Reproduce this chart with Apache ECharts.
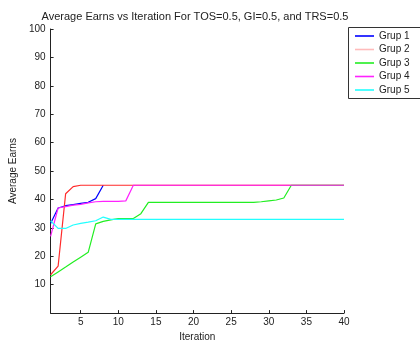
<!DOCTYPE html>
<html>
<head>
<meta charset="utf-8">
<script src="https://cdn.jsdelivr.net/npm/echarts@6/dist/echarts.min.js"></script>
<style>
  html, body { margin: 0; padding: 0; background: #fff; }
  #main { width: 420px; height: 347px; }
</style>
</head>
<body>
<div id="main"></div>
<script>
// iterations 1..40
var iterations = [];
for (var i = 1; i <= 40; i++) iterations.push(i);

// values, one per iteration (Grup 1 stops at 8)
var grup1 = [31.5, 37, 37.8, 38.2, 38.6, 39, 40.3, 45];
var grup2 = [13.5, 16.5, 42, 44.5, 45, 45, 45, 45, 45, 45,
             45, 45, 45, 45, 45, 45, 45, 45, 45, 45,
             45, 45, 45, 45, 45, 45, 45, 45, 45, 45,
             45, 45, 45, 45, 45, 45, 45, 45, 45, 45];
var grup3 = [12.8, 14.5, 16.2, 18, 19.7, 21.4, 31.4, 32.3, 32.8, 33.3,
             33.3, 33.3, 35, 39, 39, 39, 39, 39, 39, 39,
             39, 39, 39, 39, 39, 39, 39, 39, 39.2, 39.5,
             39.8, 40.5, 45, 45, 45, 45, 45, 45, 45, 45];
var grup4 = [27, 37, 37.5, 38, 38.3, 38.8, 39.2, 39.3, 39.3, 39.3,
             39.5, 45, 45, 45, 45, 45, 45, 45, 45, 45,
             45, 45, 45, 45, 45, 45, 45, 45, 45, 45,
             45, 45, 45, 45, 45, 45, 45, 45, 45, 45];
var grup5 = [32.5, 29.8, 29.8, 31, 31.6, 32, 32.5, 33.8, 33, 33,
             33, 33, 33, 33, 33, 33, 33, 33, 33, 33,
             33, 33, 33, 33, 33, 33, 33, 33, 33, 33,
             33, 33, 33, 33, 33, 33, 33, 33, 33, 33];

var names = ['Grup 1', 'Grup 2', 'Grup 3', 'Grup 4', 'Grup 5'];
var colors = ['#0000ff', '#ff2a2a', '#22ee22', '#ff22ff', '#22ffff'];
var legendColors = ['#0000ff', '#ffbbbb', '#22ee22', '#ff22ff', '#22ffff'];
var xTicks = [5, 10, 15, 20, 25, 30, 35, 40];
var yTicks = [10, 20, 30, 40, 50, 60, 70, 80, 90, 100];

function pairs(arr) {
  return arr.map(function (v, k) { return [iterations[k], v]; });
}

var myChart = echarts.init(document.getElementById('main'), null, { renderer: 'canvas' });

var font = 'Liberation Sans, Arial, sans-serif';

var option = {
  animation: false,
  color: colors,
  title: {
    text: 'Average Earns vs Iteration For TOS=0.5, GI=0.5, and TRS=0.5',
    left: 190,
    textAlign: 'center',
    top: 6,
    textStyle: { fontFamily: font, fontSize: 11, fontWeight: 'normal', color: '#222' }
  },
  // legend frame runs off the right edge like in the original
  graphic: [{
    type: 'rect',
    shape: { x: 348.5, y: 27.5, width: 90, height: 71 },
    style: { fill: '#fff', stroke: '#333', lineWidth: 1 },
    z: 0
  }],
  legend: {
    orient: 'vertical',
    left: 348,
    top: 27,
    padding: [4, 10, 4, 7],
    itemWidth: 19,
    itemHeight: 10,
    itemGap: 3.5,
    icon: 'path://M0,0 L19,0 L19,1.6 L0,1.6 Z',
    textStyle: { fontFamily: font, fontSize: 10, color: '#222' },
    data: names.map(function (n, k) {
      return { name: n, itemStyle: { color: legendColors[k], borderWidth: 0 } };
    })
  },
  grid: { left: 48, right: 76, top: 29, bottom: 28 },
  xAxis: {
    type: 'value',
    min: 1,
    max: 40,
    name: 'Iteration',
    nameLocation: 'middle',
    nameGap: 17,
    nameTextStyle: { fontFamily: font, fontSize: 10, color: '#222' },
    axisLine: { lineStyle: { color: '#222', width: 1 } },
    axisTick: { inside: true, length: 3, customValues: xTicks, lineStyle: { color: '#222' } },
    axisLabel: { customValues: xTicks, fontFamily: font, fontSize: 10, color: '#222', margin: 4 },
    splitLine: { show: false }
  },
  yAxis: {
    type: 'value',
    min: 0,
    max: 100,
    name: 'Average Earns',
    nameLocation: 'middle',
    nameGap: 32,
    nameTextStyle: { fontFamily: font, fontSize: 10, color: '#222' },
    axisLine: { show: true, lineStyle: { color: '#222', width: 1 } },
    axisTick: { show: true, inside: true, length: 3, customValues: yTicks, lineStyle: { color: '#222' } },
    axisLabel: { customValues: yTicks, fontFamily: font, fontSize: 10, color: '#222', margin: 5 },
    splitLine: { show: false }
  },
  series: [
    { name: names[0], type: 'line', symbol: 'none', lineStyle: { width: 1.2 }, data: pairs(grup1) },
    { name: names[1], type: 'line', symbol: 'none', lineStyle: { width: 1.2 }, data: pairs(grup2) },
    { name: names[2], type: 'line', symbol: 'none', lineStyle: { width: 1.2 }, data: pairs(grup3) },
    { name: names[3], type: 'line', symbol: 'none', lineStyle: { width: 1.2 }, data: pairs(grup4) },
    { name: names[4], type: 'line', symbol: 'none', lineStyle: { width: 1.2 }, data: pairs(grup5) }
  ]
};

myChart.setOption(option);
</script>
</body>
</html>
